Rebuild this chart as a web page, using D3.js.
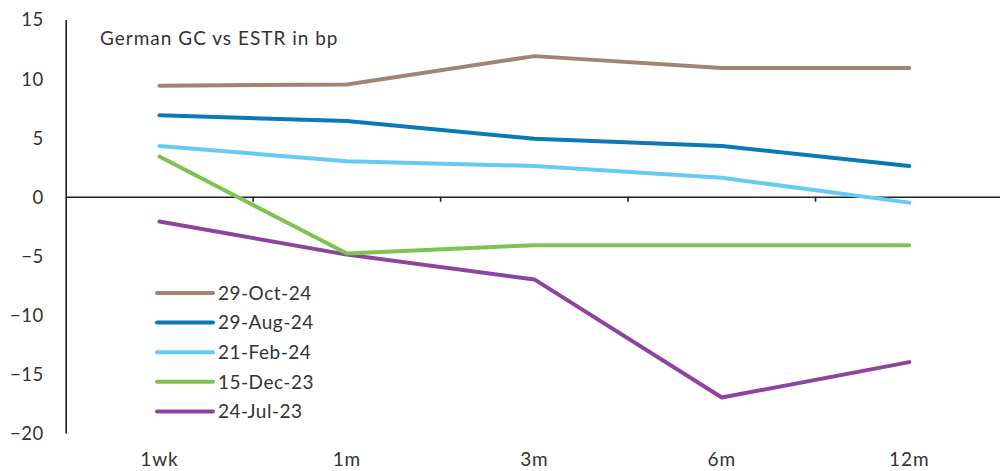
<!DOCTYPE html>
<html><head><meta charset="utf-8">
<script src="https://cdn.jsdelivr.net/npm/d3@7"></script>
<style>
html,body{margin:0;padding:0;background:#fff;}
svg{display:block;}
text{font-family:Lato,"Open Sans",sans-serif;fill:#333;}
</style></head>
<body>
<script>
const categories = ["1wk","1m","3m","6m","12m"];
const seriesNames = ["29-Oct-24","29-Aug-24","21-Feb-24","15-Dec-23","24-Jul-23"];
const oct24 = [9.4, 9.5, 11.9, 10.9, 10.9];
const aug24 = [6.9, 6.4, 4.9, 4.3, 2.6];
const feb24 = [4.3, 3.0, 2.6, 1.6, -0.5];
const dec23 = [3.4, -4.8, -4.1, -4.1, -4.1];
const jul23 = [-2.1, -4.9, -7.0, -17.0, -14.0];
const yTicks = [15, 10, 5, 0, -5, -10, -15, -20];
const title = "German GC vs ESTR in bp";
const colors = ["#a28474", "#0a79b6", "#66cbf4", "#7cc44f", "#8e449e"];

const series = [oct24, aug24, feb24, dec23, jul23].map((v, i) => ({name: seriesNames[i], values: v, color: colors[i]}));

const W = 1000, H = 471;
const svg = d3.select("body").append("svg").attr("width", W).attr("height", H);

const x = d3.scaleBand().domain(categories).range([65.7, 1003]).paddingInner(0).paddingOuter(0);
const y = d3.scaleLinear().domain([-20, 15]).range([433, 19.5]);

// left axis
const yAxis = d3.axisLeft(y).tickValues(yTicks).tickSize(0).tickPadding(22).tickFormat(d3.format("d"));
const gy = svg.append("g").attr("transform", "translate(65.7,0)").call(yAxis);
gy.select(".domain").attr("stroke", "#222").attr("stroke-width", 1.6);
gy.selectAll("text").style("font-size", "18.5px").style("letter-spacing", "0.5px").attr("fill", "#333").attr("dy", "0.35em").attr("font-family", null);

// zero axis with ticks at band boundaries
const xAxis = d3.axisBottom(x).tickSize(0).tickFormat("");
const gx = svg.append("g").attr("transform", `translate(0,${y(0)})`).call(xAxis);
gx.select(".domain").attr("stroke", "#222").attr("stroke-width", 1.6);
gx.selectAll(".tick").remove();
const boundaries = categories.slice(1).map(c => x(c));
gx.selectAll("line.bt").data(boundaries).enter().append("line")
  .attr("x1", d => d).attr("x2", d => d).attr("y1", 0).attr("y2", 5)
  .attr("stroke", "#222").attr("stroke-width", 1.6);

// category labels at bottom
const xLab = d3.axisBottom(x).tickSize(0).tickPadding(0);
const gl = svg.append("g").attr("transform", "translate(0,449)").call(xLab);
gl.select(".domain").remove();
gl.selectAll("text").style("font-size", "19px").style("letter-spacing", "0.9px").attr("fill", "#333").attr("dy", "0.9em").attr("font-family", null);

// lines
const line = d3.line().x((d, i) => x(categories[i]) + x.bandwidth() / 2).y(d => y(d));
svg.append("g").selectAll("path").data(series.slice().reverse()).enter().append("path")
  .attr("d", d => line(d.values)).attr("fill", "none")
  .attr("stroke", d => d.color).attr("stroke-width", 4)
  .attr("stroke-linejoin", "round").attr("stroke-linecap", "round");

// title
svg.append("text").attr("x", 100).attr("y", 45).style("font-size", "19px").style("letter-spacing", "1px").text(title);

// legend
const lg = svg.append("g");
series.forEach((s, i) => {
  const yy = 293 + i * 29.6;
  lg.append("line").attr("x1", 157).attr("x2", 213).attr("y1", yy).attr("y2", yy)
    .attr("stroke", s.color).attr("stroke-width", 4).attr("stroke-linecap", "round");
  lg.append("text").attr("x", 218).attr("y", yy).attr("dy", "0.36em").style("font-size", "19px").style("letter-spacing", "0.5px").text(s.name);
});
</script>
</body></html>
